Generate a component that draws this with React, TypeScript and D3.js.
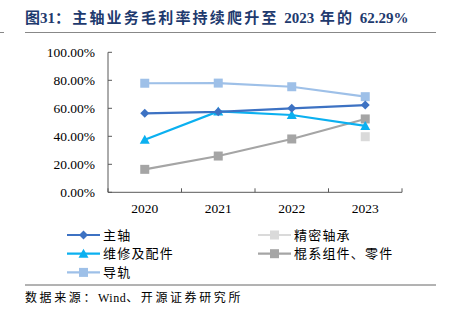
import React from "react";
import * as d3 from "d3";

const years = ["2020", "2021", "2022", "2023"];
const yTicks = [0, 20, 40, 60, 80, 100];
const spindle = [56.4, 57.5, 60.0, 62.29];
const repair = [37.5, 57.8, 55.2, 47.4];
const rail = [77.9, 78.0, 75.4, 68.3];
const roller = [16.4, 25.9, 38.1, 52.4];
const bearing: (number | null)[] = [null, null, null, 39.7];

type Series = { name: string; values: (number | null)[]; color: string; marker: "diamond" | "triangle" | "square" };

const series: Series[] = [
  { name: "主轴", values: spindle, color: "#3D72C3", marker: "diamond" },
  { name: "精密轴承", values: bearing, color: "#DADADA", marker: "square" },
  { name: "维修及配件", values: repair, color: "#0BB0F0", marker: "triangle" },
  { name: "棍系组件、零件", values: roller, color: "#A5A5A5", marker: "square" },
  { name: "导轨", values: rail, color: "#9EC0E8", marker: "square" },
];

const drawOrder = [3, 4, 2, 0, 1];

function Marker({ type, x, y, color }: { type: string; x: number; y: number; color: string }) {
  if (type === "diamond") {
    const s = 4.5;
    return <path d={`M${x},${y - s}L${x + s},${y}L${x},${y + s}L${x - s},${y}Z`} fill={color} />;
  }
  if (type === "triangle") {
    return <path d={`M${x},${y - 5}L${x + 5},${y + 4}L${x - 5},${y + 4}Z`} fill={color} />;
  }
  return <rect x={x - 4.5} y={y - 4.5} width={9} height={9} fill={color} />;
}

export default function App() {
  const x0 = 108, x1 = 402, yTop = 52.3, yBot = 192.3;
  const x = d3.scaleBand<string>().domain(years).range([x0, x1]);
  const y = d3.scaleLinear().domain([0, 100]).range([yBot, yTop]);
  const cx = (yr: string) => (x(yr) as number) + x.bandwidth() / 2;
  const line = d3
    .line<[string, number | null]>()
    .defined((d) => d[1] !== null)
    .x((d) => cx(d[0]))
    .y((d) => y(d[1] as number));

  const serif = "'Liberation Serif', 'Times New Roman', serif";
  const cjk = "'Noto Sans CJK SC', sans-serif";

  return (
    <svg width={450} height={324} style={{ position: "absolute", left: 0, top: 0, background: "#fff" }}>
      <text x={25} y={23} fontFamily={serif} fontWeight="bold" fontSize={15} fill="#1E3A6E">
        <tspan fontFamily={cjk}>图</tspan>
        <tspan>31</tspan>
        <tspan fontFamily={cjk} letterSpacing={2.2}>：主轴业务毛利率持续爬升至 </tspan>
        <tspan>2023</tspan>
        <tspan fontFamily={cjk} letterSpacing={2.2}> 年的 </tspan>
        <tspan>62.29%</tspan>
      </text>
      <line x1={25} x2={436} y1={32.5} y2={32.5} stroke="#888" strokeWidth={1.2} />
      <line x1={0} x2={4} y1={32.5} y2={32.5} stroke="#888" strokeWidth={1} />

      {/* axes */}
      <line x1={x0} x2={x0} y1={yTop} y2={yBot} stroke="#595959" strokeWidth={1} />
      <line x1={x0} x2={x1} y1={yBot} y2={yBot} stroke="#595959" strokeWidth={1} />
      {yTicks.map((t) => (
        <g key={t}>
          <line x1={x0} x2={x0 + 4} y1={y(t)} y2={y(t)} stroke="#595959" />
          <text x={95} y={y(t) + 4.5} textAnchor="end" fontFamily={serif} fontSize={13.5} fill="#000">
            {t.toFixed(2)}%
          </text>
        </g>
      ))}
      {[...years.map((yr) => x(yr) as number), x1].map((v, i) => (
        <line key={i} x1={v} x2={v} y1={yBot} y2={yBot - 4} stroke="#595959" />
      ))}
      {years.map((yr) => (
        <text key={yr} x={cx(yr)} y={213} textAnchor="middle" fontFamily={serif} fontSize={13.5} fill="#000">
          {yr}
        </text>
      ))}

      {drawOrder.map((i) => {
        const s = series[i];
        const pts = years.map((yr, j) => [yr, s.values[j]] as [string, number | null]);
        return (
          <g key={s.name}>
            <path d={line(pts) || ""} fill="none" stroke={s.color} strokeWidth={2.2} />
            {pts
              .filter((p) => p[1] !== null)
              .map((p) => (
                <Marker key={p[0]} type={s.marker} x={cx(p[0])} y={y(p[1] as number)} color={s.color} />
              ))}
          </g>
        );
      })}

      {/* legend */}
      {series.map((s, i) => {
        const col = i % 2;
        const row = Math.floor(i / 2);
        const lx = col === 0 ? 67 : 258;
        const ly = 235 + row * 18.7;
        return (
          <g key={s.name}>
            <line x1={lx} x2={lx + 33} y1={ly} y2={ly} stroke={s.color} strokeWidth={2.2} />
            <Marker type={s.marker} x={lx + 16.5} y={ly} color={s.color} />
            <text x={lx + 36} y={ly + 4.5} fontFamily={cjk} fontSize={13} letterSpacing={1.2} fill="#000">
              {s.name}
            </text>
          </g>
        );
      })}

      <line x1={25} x2={436} y1={285} y2={285} stroke="#666" strokeWidth={1} />
      <text x={25} y={302} fontFamily={cjk} fontSize={12} letterSpacing={2.6} fill="#000">
        数据来源：<tspan fontFamily={serif} letterSpacing={0.5}>Wind</tspan>、开源证券研究所
      </text>
    </svg>
  );
}
